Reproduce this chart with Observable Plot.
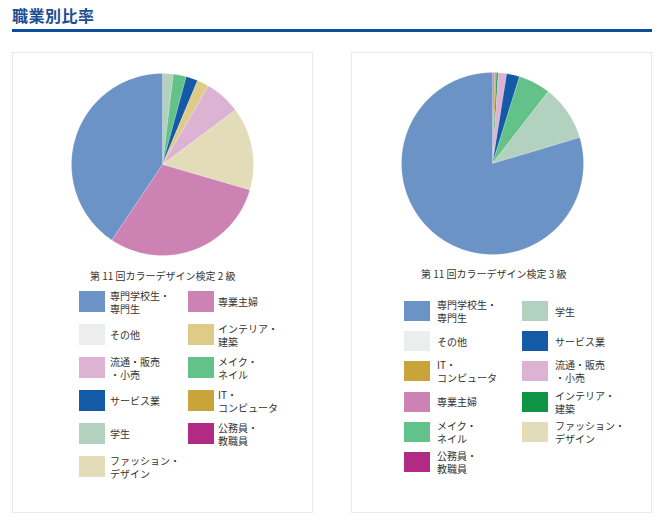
<!DOCTYPE html>
<html><head><meta charset="utf-8">
<script src="https://cdn.jsdelivr.net/npm/d3@7"></script>
<script src="https://cdn.jsdelivr.net/npm/@observablehq/plot@0.6"></script>
<style>
body{margin:0;width:660px;height:522px;position:relative;background:#fff;font-family:"Noto Sans CJK JP","Noto Sans",sans-serif;color:#333;overflow:hidden}
.abs{position:absolute}
.title{left:12px;top:3px;font-size:16px;font-weight:bold;color:#1b4e92;letter-spacing:0.5px}
.rule{left:12px;top:29px;width:640px;height:3px;background:#0b4f9c}
.panel{top:52px;width:299px;height:459px;border:1px solid #e9e9e9}
.ltitle{font-size:10px;white-space:pre;color:#333}
.sw{width:26px}
.lab{font-size:10px;line-height:13px;white-space:pre;color:#333;display:flex;align-items:center}
svg{display:block}
</style></head><body>
<div class="abs title">職業別比率</div>
<div class="abs rule"></div>
<div class="abs panel" style="left:12px"></div>
<div class="abs panel" style="left:351px"></div>
<div id="root"></div>
<script>
// categories (legend order of the 2級 chart)
const categories = ["専門学校生・専門生","専業主婦","その他","インテリア・建築","流通・販売・小売","メイク・ネイル","サービス業","IT・コンピュータ","学生","公務員・教職員","ファッション・デザイン"];
const legendLabels = ["専門学校生・\n専門生","専業主婦","その他","インテリア・\n建築","流通・販売\n・小売","メイク・\nネイル","サービス業","IT・\nコンピュータ","学生","公務員・\n教職員","ファッション・\nデザイン"];
const colors2 = ["#6b93c5","#cc83b3","#eceeee","#dfcb88","#ddb3d3","#63c289","#155aa6","#c8a43a","#b3d1bf","#b12b85","#e2ddb8"];
const colors3 = ["#6b93c5","#cc83b3","#eceeee","#0e9444","#ddb3d3","#63c289","#155aa6","#c8a43a","#b3d1bf","#b12b85","#e2ddb8"];
// values (%) in categories order
const values2 = [40.6,29.9,0,2.1,6.4,2.3,2.1,0,1.9,0,14.7];
const values3 = [79.6,0.3,0,0.3,1.5,5.7,2.3,0.3,9.9,0.1,0];
// slice order clockwise from 12 o'clock
const pieOrder2 = ["学生","メイク・ネイル","サービス業","インテリア・建築","流通・販売・小売","ファッション・デザイン","専業主婦","専門学校生・専門生"];
const pieOrder3 = ["公務員・教職員","専業主婦","IT・コンピュータ","インテリア・建築","流通・販売・小売","サービス業","メイク・ネイル","学生","専門学校生・専門生"];
// legend orders (row-major, two columns)
const legendOrder2 = categories;
const legendOrder3 = ["専門学校生・専門生","学生","その他","サービス業","IT・コンピュータ","流通・販売・小売","専業主婦","インテリア・建築","メイク・ネイル","ファッション・デザイン","公務員・教職員"];
const chartTitles = ["第 11 回カラーデザイン検定 2 級","第 11 回カラーデザイン検定 3 級"];

function piePlot(values, order, colors){
  const byCat = new Map(categories.map((c,i)=>[c,values[i]]));
  const total = d3.sum(order, c=>byCat.get(c));
  const pts = [];
  let acc = 0;
  for (const c of order){
    const v = byCat.get(c);
    const a0 = acc/total*2*Math.PI; acc += v; const a1 = acc/total*2*Math.PI;
    const n = Math.max(2, Math.ceil((a1-a0)/(Math.PI/360)));
    pts.push({k:c,x:0,y:0});
    for (let j=0;j<=n;j++){const a=a0+(a1-a0)*j/n; pts.push({k:c,x:Math.sin(a),y:Math.cos(a)});}
    pts.push({k:c,x:0,y:0});
  }
  return Plot.plot({
    width:190,height:190,margin:4,
    x:{domain:[-1,1],axis:null},
    y:{domain:[-1,1],axis:null},
    color:{domain:categories,range:colors},
    marks:[Plot.line(pts,{x:"x",y:"y",z:"k",fill:"k",stroke:"#ffffff",strokeWidth:0.3,strokeOpacity:0.6})]
  });
}

const root = document.getElementById("root");
function place(el, left, top){el.classList.add("abs");el.style.left=left+"px";el.style.top=top+"px";root.appendChild(el);return el;}

const charts = [
  {values:values2,order:pieOrder2,colors:colors2,legend:legendOrder2,cx:162,cy:164,title:chartTitles[0],tx:90,ty:268,
   sx:[79,188],lx:[110,218],row0:291,rowH:33,swH:21},
  {values:values3,order:pieOrder3,colors:colors3,legend:legendOrder3,cx:491.5,cy:163,title:chartTitles[1],tx:421,ty:266,
   sx:[404,522],lx:[437,555],row0:301,rowH:30.2,swH:20}
];
for (const ch of charts){
  const wrap = document.createElement("div");
  wrap.appendChild(piePlot(ch.values,ch.order,ch.colors));
  place(wrap, ch.cx-95, ch.cy-95);
  const t = document.createElement("div"); t.className="ltitle"; t.textContent=ch.title; place(t, ch.tx, ch.ty);
  ch.legend.forEach((c,i)=>{
    const col=i%2, row=Math.floor(i/2);
    const ci = categories.indexOf(c);
    const top = ch.row0+row*ch.rowH;
    const sw=document.createElement("div"); sw.className="sw"; sw.style.height=ch.swH+"px"; sw.style.background=ch.colors[ci];
    place(sw, ch.sx[col], top);
    const lb=document.createElement("div"); lb.className="lab"; lb.style.height=ch.swH+"px"; lb.textContent=legendLabels[ci];
    place(lb, ch.lx[col], top);
  });
}
</script>
</body></html>
